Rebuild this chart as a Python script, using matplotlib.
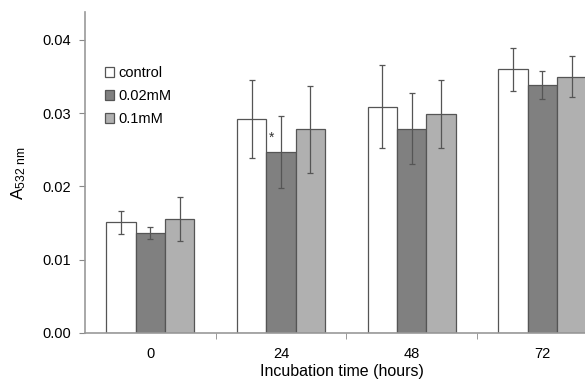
import numpy as np
import matplotlib
matplotlib.use("Agg")
import matplotlib.pyplot as plt

times = ["0", "24", "48", "72"]
groups = ["control", "0.02mM", "0.1mM"]
means = {
    "control": [0.0151, 0.0292, 0.0309, 0.0360],
    "0.02mM": [0.0137, 0.0247, 0.0279, 0.0338],
    "0.1mM": [0.0155, 0.0278, 0.0299, 0.0350],
}
errors = {
    "control": [0.0016, 0.0053, 0.0057, 0.0029],
    "0.02mM": [0.0008, 0.0049, 0.0048, 0.0019],
    "0.1mM": [0.0030, 0.0059, 0.0047, 0.0028],
}
colours = {"control": "#ffffff", "0.02mM": "#808080", "0.1mM": "#b0b0b0"}

plt.rcParams.update({"font.family": ["Liberation Sans", "DejaVu Sans"], "mathtext.default": "regular"})

fig = plt.figure(figsize=(5.85, 3.8), dpi=100)
ax = fig.add_axes([0.1453, 0.1237, 0.88, 0.8443])

x = np.arange(len(times))
width = 0.225
for i, g in enumerate(groups):
    ax.bar(x + (i - 1) * width, means[g], width, color=colours[g], edgecolor="#555555",
           linewidth=0.9, label=g, zorder=2)
    ax.errorbar(x + (i - 1) * width, means[g], yerr=errors[g], fmt="none", ecolor="#555555",
                elinewidth=0.9, capsize=2.2, capthick=0.9, zorder=3)

# significance mark on 0.02mM at 24 h
ax.text(x[1] - 0.075, 0.0266, "*", ha="center", va="center", fontsize=10, color="#333333")

ax.set_xlim(-0.5, 3.44)
ax.set_ylim(0, 0.0438)
ax.set_yticks([0.0, 0.01, 0.02, 0.03, 0.04])
ax.set_yticklabels(["0.00", "0.01", "0.02", "0.03", "0.04"])
ax.set_xticks(x)
ax.set_xticklabels(times)
ax.set_xticks([0.5, 1.5, 2.5], minor=True)
ax.tick_params(axis="x", which="major", length=0, pad=10, labelsize=10.5)
ax.tick_params(axis="x", which="minor", length=4, color="#888888", direction="out")
ax.tick_params(axis="y", length=4, color="#888888", labelsize=10.5, pad=6)

for side in ["top", "right"]:
    ax.spines[side].set_visible(False)
for side in ["left", "bottom"]:
    ax.spines[side].set_color("#999999")
    ax.spines[side].set_linewidth(1.2)

ax.set_xlabel("Incubation time (hours)", fontsize=11.5, labelpad=2)
ax.set_ylabel(r"A$_{\mathregular{532\ nm}}$", fontsize=12.5, labelpad=10)

ax.legend(loc="upper left", bbox_to_anchor=(0.039, 0.832), frameon=False, fontsize=10.5,
          handlelength=0.6, handleheight=0.6, handletextpad=0.3, labelspacing=0.62,
          borderaxespad=0, borderpad=0)

fig.savefig("out.png", dpi=100)
